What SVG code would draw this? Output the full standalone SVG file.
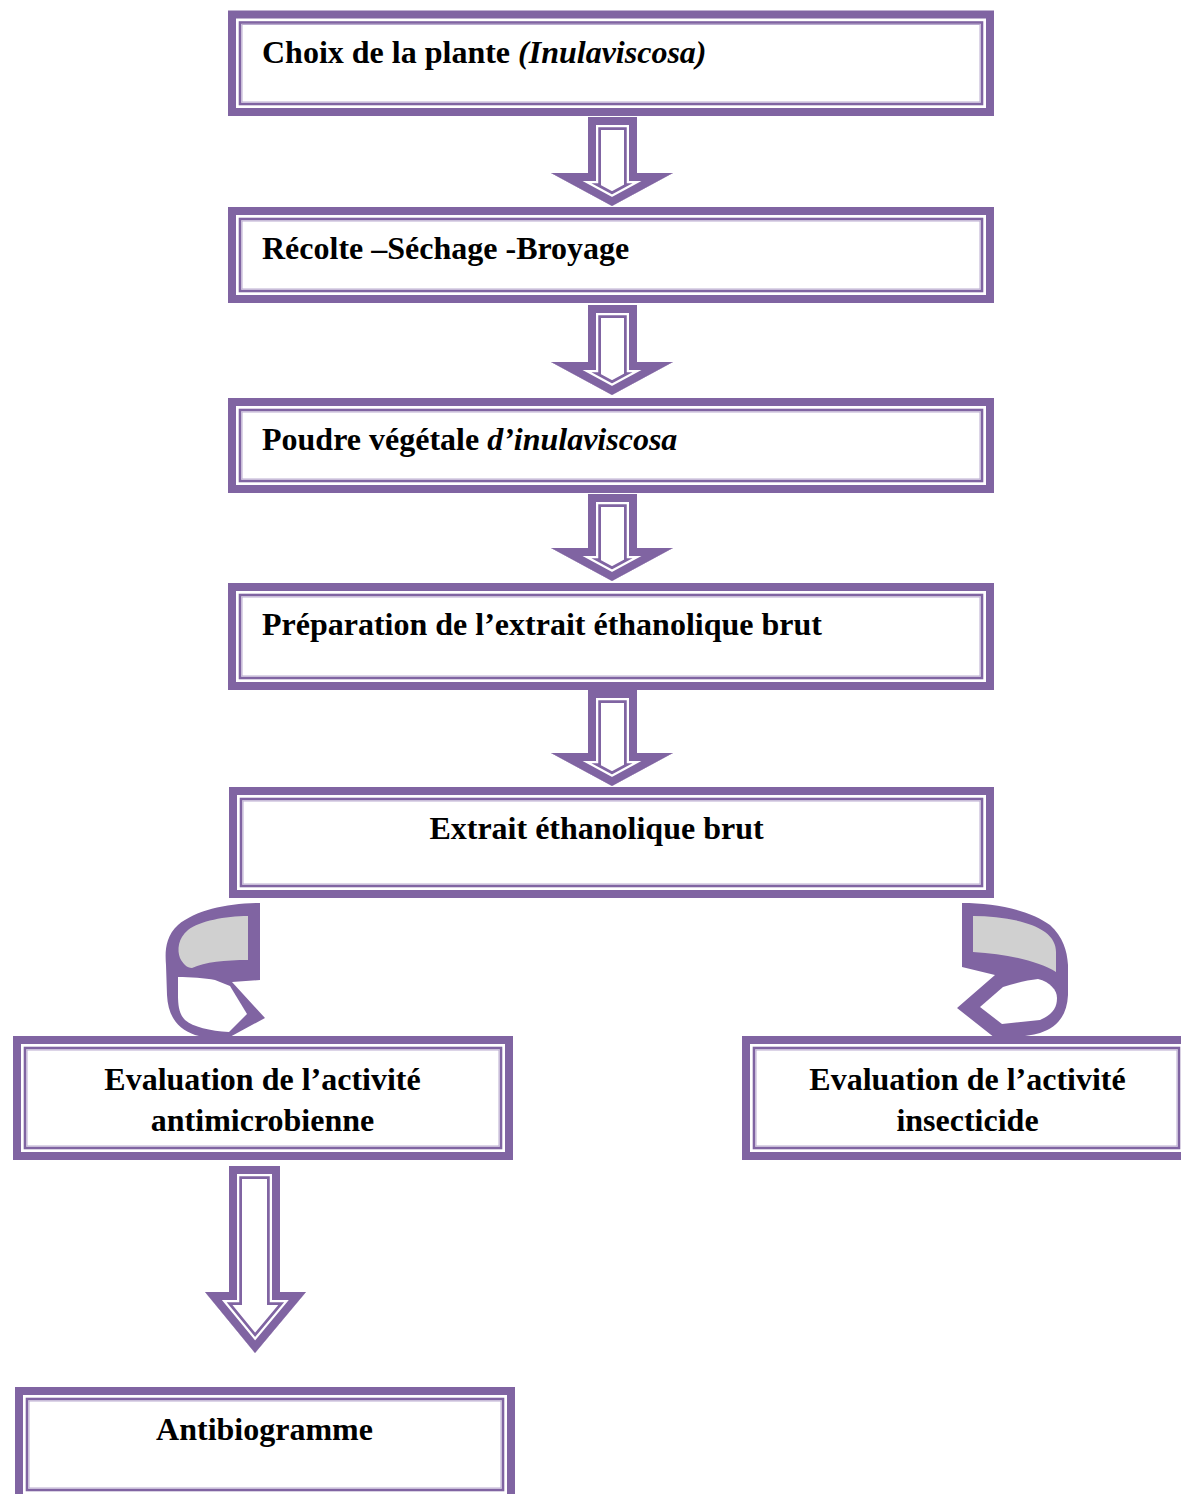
<svg xmlns="http://www.w3.org/2000/svg" xmlns:xlink="http://www.w3.org/1999/xlink" width="1181" height="1494" viewBox="0 0 1181 1494">
<style>
.outer{fill:#fff;stroke:#8064A2;stroke-width:8}
.inner{fill:none;stroke:#8064A2;stroke-width:2.6}
.innerl{fill:none;stroke:#B9AACF;stroke-width:1}
.t{font-family:"Liberation Serif","Times New Roman",serif;font-weight:bold;font-size:32px;fill:#000}
.c{text-anchor:middle}
.i{font-style:italic}
.a1{fill:#fff;stroke:#8064A2;stroke-width:26;stroke-miterlimit:10}
.a2{fill:none;stroke:#fff;stroke-width:20.5;stroke-miterlimit:10}
.a3{fill:none;stroke:#8064A2;stroke-width:16;stroke-miterlimit:10}
.sil{fill:#8064A2}
.gray{fill:#D0D0D0}
.wf{fill:#fff}
</style>
<defs>
<path id="p1" d="M588,117 H637 V173 H673 L612,206 L551,173 H588 Z"/>
<path id="p2" d="M588,305 H637 V362 H673 L612,395 L551,362 H588 Z"/>
<path id="p3" d="M588,494 H637 V548 H673 L612,581 L551,548 H588 Z"/>
<path id="p4" d="M588,690 H637 V753 H673 L612,786 L551,753 H588 Z"/>
<path id="p5" d="M229,1166 H280 V1292 H306 L255,1353 L205,1292 H229 Z"/>
<clipPath id="c1"><use xlink:href="#p1"/></clipPath>
<clipPath id="c2"><use xlink:href="#p2"/></clipPath>
<clipPath id="c3"><use xlink:href="#p3"/></clipPath>
<clipPath id="c4"><use xlink:href="#p4"/></clipPath>
<clipPath id="c5"><use xlink:href="#p5"/></clipPath>
</defs>
<rect width="1181" height="1494" fill="#fff"/>

<g id="connectors">
<g clip-path="url(#c1)"><use xlink:href="#p1" class="a1"/><use xlink:href="#p1" class="a2"/><use xlink:href="#p1" class="a3"/></g>
<g clip-path="url(#c2)"><use xlink:href="#p2" class="a1"/><use xlink:href="#p2" class="a2"/><use xlink:href="#p2" class="a3"/></g>
<g clip-path="url(#c3)"><use xlink:href="#p3" class="a1"/><use xlink:href="#p3" class="a2"/><use xlink:href="#p3" class="a3"/></g>
<g clip-path="url(#c4)"><use xlink:href="#p4" class="a1"/><use xlink:href="#p4" class="a2"/><use xlink:href="#p4" class="a3"/></g>
<g clip-path="url(#c5)"><use xlink:href="#p5" class="a1"/><use xlink:href="#p5" class="a2"/><use xlink:href="#p5" class="a3"/></g>
<g id="curveLeft">
<path class="sil" d="M260,903 C228,903 196,910 178,925 C165,937 165,952 166,965 L167,995 C168,1015 176,1028 195,1035 C205,1038 218,1039 228,1038 L265,1018 L232,982 L260,980 Z"/>
<path class="gray" d="M248,916 C225,916 200,921 188,930 C178,938 177,950 180,958 C183,964 187,968 192,968 C205,962 225,960 248,960 Z"/>
<path class="wf" d="M178,977 C190,977 205,978 215,980 L230,986 L247,1014 L229,1032 C210,1031 193,1027 185,1020 C179,1014 178,1005 178,995 Z"/>
</g>
<g id="curveRight">
<path class="sil" d="M962,903 C995,903 1030,910 1050,925 C1063,937 1067,950 1068,965 L1068,995 C1067,1015 1058,1027 1040,1033 C1025,1037 1010,1038 995,1038 L957,1008 L995,975 L962,967 Z"/>
<path class="gray" d="M973,916 C1000,916 1030,921 1045,932 C1053,938 1056,945 1056,952 L1056,972 C1040,962 1010,954 973,952 Z"/>
<path class="wf" d="M1003,987 C1015,983 1028,980 1038,979 C1050,982 1057,990 1057,998 C1057,1008 1052,1015 1040,1020 L1002,1024 L980,1007 Z"/>
</g>
</g>

<g id="n1">
<rect class="outer" x="232" y="14.5" width="758" height="97.5"/>
<rect class="inner" x="240" y="22.5" width="742" height="81.5"/>
<rect class="innerl" x="242" y="24.5" width="738" height="77.5"/>
<text class="t" x="262" y="63">Choix de la plante <tspan class="i">(Inulaviscosa)</tspan></text>
</g>
<g id="n2">
<rect class="outer" x="232" y="211" width="758" height="88"/>
<rect class="inner" x="240" y="219" width="742" height="72"/>
<rect class="innerl" x="242" y="221" width="738" height="68"/>
<text class="t" x="262" y="259">Récolte –Séchage -Broyage</text>
</g>
<g id="n3">
<rect class="outer" x="232" y="402" width="758" height="87"/>
<rect class="inner" x="240" y="410" width="742" height="71"/>
<rect class="innerl" x="242" y="412" width="738" height="67"/>
<text class="t" x="262" y="450">Poudre végétale <tspan class="i">d’inulaviscosa</tspan></text>
</g>
<g id="n4">
<rect class="outer" x="232" y="587" width="758" height="99"/>
<rect class="inner" x="240" y="595" width="742" height="83"/>
<rect class="innerl" x="242" y="597" width="738" height="79"/>
<text class="t" x="262" y="635">Préparation de l’extrait éthanolique brut</text>
</g>
<g id="n5">
<rect class="outer" x="233" y="791" width="757" height="103"/>
<rect class="inner" x="241" y="799" width="741" height="87"/>
<rect class="innerl" x="243" y="801" width="737" height="83"/>
<text class="t c" x="596.5" y="839">Extrait éthanolique brut</text>
</g>
<g id="n6">
<rect class="outer" x="17" y="1040" width="492" height="116"/>
<rect class="inner" x="25" y="1048" width="476" height="100"/>
<rect class="innerl" x="27" y="1050" width="472" height="96"/>
<text class="t c" x="262.5" y="1090">Evaluation de l’activité</text>
<text class="t c" x="262.5" y="1131">antimicrobienne</text>
</g>
<g id="n7">
<rect class="outer" x="746" y="1040" width="444" height="116"/>
<rect class="inner" x="754" y="1048" width="425" height="100"/>
<rect class="innerl" x="756" y="1050" width="421" height="96"/>
<text class="t c" x="967.5" y="1090">Evaluation de l’activité</text>
<text class="t c" x="967.5" y="1131">insecticide</text>
</g>
<g id="n8">
<rect class="outer" x="19" y="1391" width="492" height="107"/>
<rect class="inner" x="27" y="1399" width="476" height="91"/>
<rect class="innerl" x="29" y="1401" width="472" height="87"/>
<text class="t c" x="264.5" y="1440">Antibiogramme</text>
</g>
</svg>
